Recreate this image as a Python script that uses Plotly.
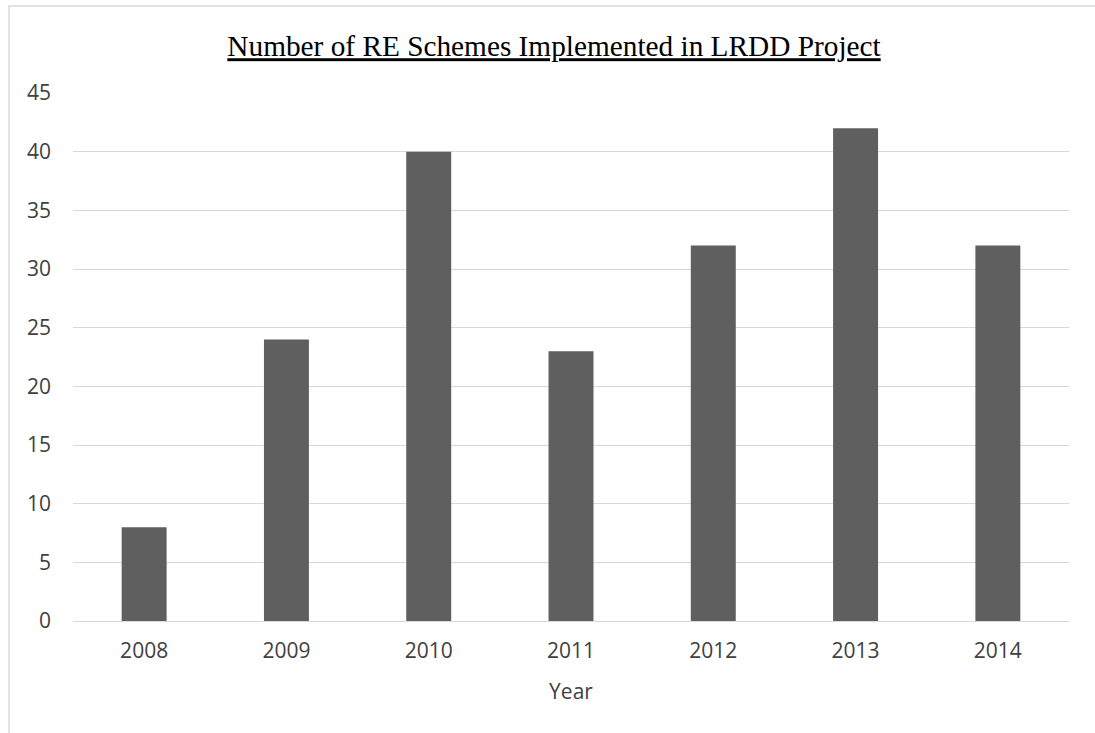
import plotly.graph_objects as go

years = ["2008", "2009", "2010", "2011", "2012", "2013", "2014"]
schemes = [8, 24, 40, 23, 32, 42, 32]
y_ticks = [0, 5, 10, 15, 20, 25, 30, 35, 40, 45]

W, H = 1095, 733
L, R, T, B = 73, 26, 93, 112
pw, ph = W - L - R, H - T - B

fig = go.Figure(
    go.Bar(
        x=years,
        y=schemes,
        marker=dict(color="#5f5f5f", line=dict(width=0)),
        width=0.316,
    )
)

# light frame around the chart area (left and top edges visible)
fx0 = (9 - L) / pw
fy1 = 1 + (T - 6) / ph
fig.add_shape(
    type="rect", xref="paper", yref="paper",
    x0=fx0, x1=1.2, y0=-1.0, y1=fy1,
    line=dict(color="#d9d9d9", width=1.5), layer="below",
)

fig.update_layout(
    width=W, height=H,
    margin=dict(l=L, r=R, t=T, b=B),
    paper_bgcolor="white",
    plot_bgcolor="white",
    showlegend=False,
    title=dict(
        text="<u>Number of RE Schemes Implemented in LRDD Project</u>",
        font=dict(family="Liberation Serif", size=29.3, color="#000000"),
        x=554 / W, xanchor="center", xref="container",
        y=1 - 46 / H, yanchor="middle",
    ),
    font=dict(family="Open Sans", size=21, color="#404040"),
)

fig.update_xaxes(
    type="category",
    showgrid=False,
    showline=False,
    ticks="",
    ticklabelstandoff=15,
    tickfont=dict(family="Open Sans", size=21, color="#404040"),
    title=dict(text="Year", font=dict(family="Open Sans", size=21, color="#404040"), standoff=21),
)

fig.update_yaxes(
    range=[0, 45],
    tickvals=y_ticks,
    showgrid=True,
    gridcolor="#d9d9d9",
    gridwidth=1.3,
    zeroline=True,
    zerolinecolor="#d9d9d9",
    zerolinewidth=1.3,
    showline=False,
    ticks="",
    ticklabelstandoff=21,
    tickfont=dict(family="Open Sans", size=21, color="#404040"),
)

fig.write_html("out.html")
